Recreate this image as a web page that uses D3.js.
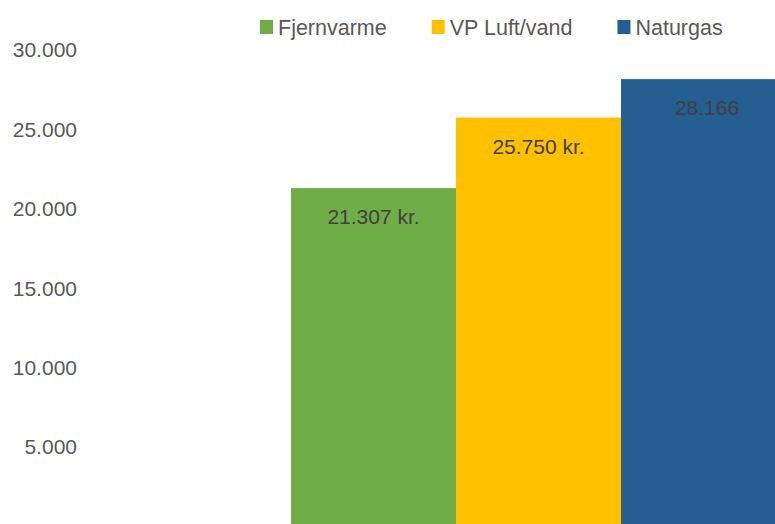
<!DOCTYPE html>
<html>
<head>
<meta charset="utf-8">
<script src="https://cdn.jsdelivr.net/npm/d3@7"></script>
<style>
  body { margin: 0; background: #fff; }
  svg { display: block; font-family: "Liberation Sans", Arial, sans-serif; }
</style>
</head>
<body>
<svg id="chart" width="775" height="524"></svg>
<script>
// chart values
const series = ["Fjernvarme", "VP Luft/vand", "Naturgas"];
const values = [21307, 25750, 28166];
const labels = ["21.307 kr.", "25.750 kr.", "28.166"];
const colors = ["#70ad47", "#ffc000", "#255e91"];
const yTicks = [5000, 10000, 15000, 20000, 25000, 30000];

const svg = d3.select("#chart");
const width = 775, height = 524;

// y scale: zero sits just below the bottom edge
let y = d3.scaleLinear().domain([0, 30000]).range([526.5, 50]);

// bars sit side by side, last one runs past the edge
let x = d3.scaleBand().domain(series).range([291, 786]).paddingInner(0).paddingOuter(0);

let fmt = d => d3.format(",")(d).replace(/,/g, ".");

// y axis labels (no line, no ticks)
svg.append("g")
    .selectAll("text")
    .data(yTicks)
    .enter().append("text")
    .attr("x", 77)
    .attr("y", d => y(d))
    .attr("dy", "0.35em")
    .attr("text-anchor", "end")
    .attr("font-size", 21)
    .attr("fill", "#595959")
    .text(d => fmt(d));

// bars
svg.append("g")
    .selectAll("rect")
    .data(values)
    .enter().append("rect")
    .attr("x", (d, i) => x(series[i]))
    .attr("y", d => y(d))
    .attr("width", x.bandwidth())
    .attr("height", d => y(0) - y(d))
    .attr("fill", (d, i) => colors[i]);

// data labels inside the top of each bar
svg.append("g")
    .selectAll("text")
    .data(values)
    .enter().append("text")
    .attr("x", (d, i) => i == 2 ? 707 : x(series[i]) + x.bandwidth() / 2)
    .attr("y", d => y(d) + 29)
    .attr("dy", "0.35em")
    .attr("text-anchor", "middle")
    .attr("font-size", 21)
    .attr("fill", "#404040")
    .text((d, i) => labels[i]);

// legend
let legend = svg.append("g");
let lx = 260;
series.forEach((s, i) => {
    legend.append("rect")
        .attr("x", lx).attr("y", 20)
        .attr("width", 13).attr("height", 14)
        .attr("fill", colors[i]);
    let t = legend.append("text")
        .attr("x", lx + 18).attr("y", 27)
        .attr("dy", "0.35em")
        .attr("font-size", 21.5)
        .attr("fill", "#595959")
        .text(s);
    lx = lx + 18 + t.node().getComputedTextLength() + 45;
});
</script>
</body>
</html>
